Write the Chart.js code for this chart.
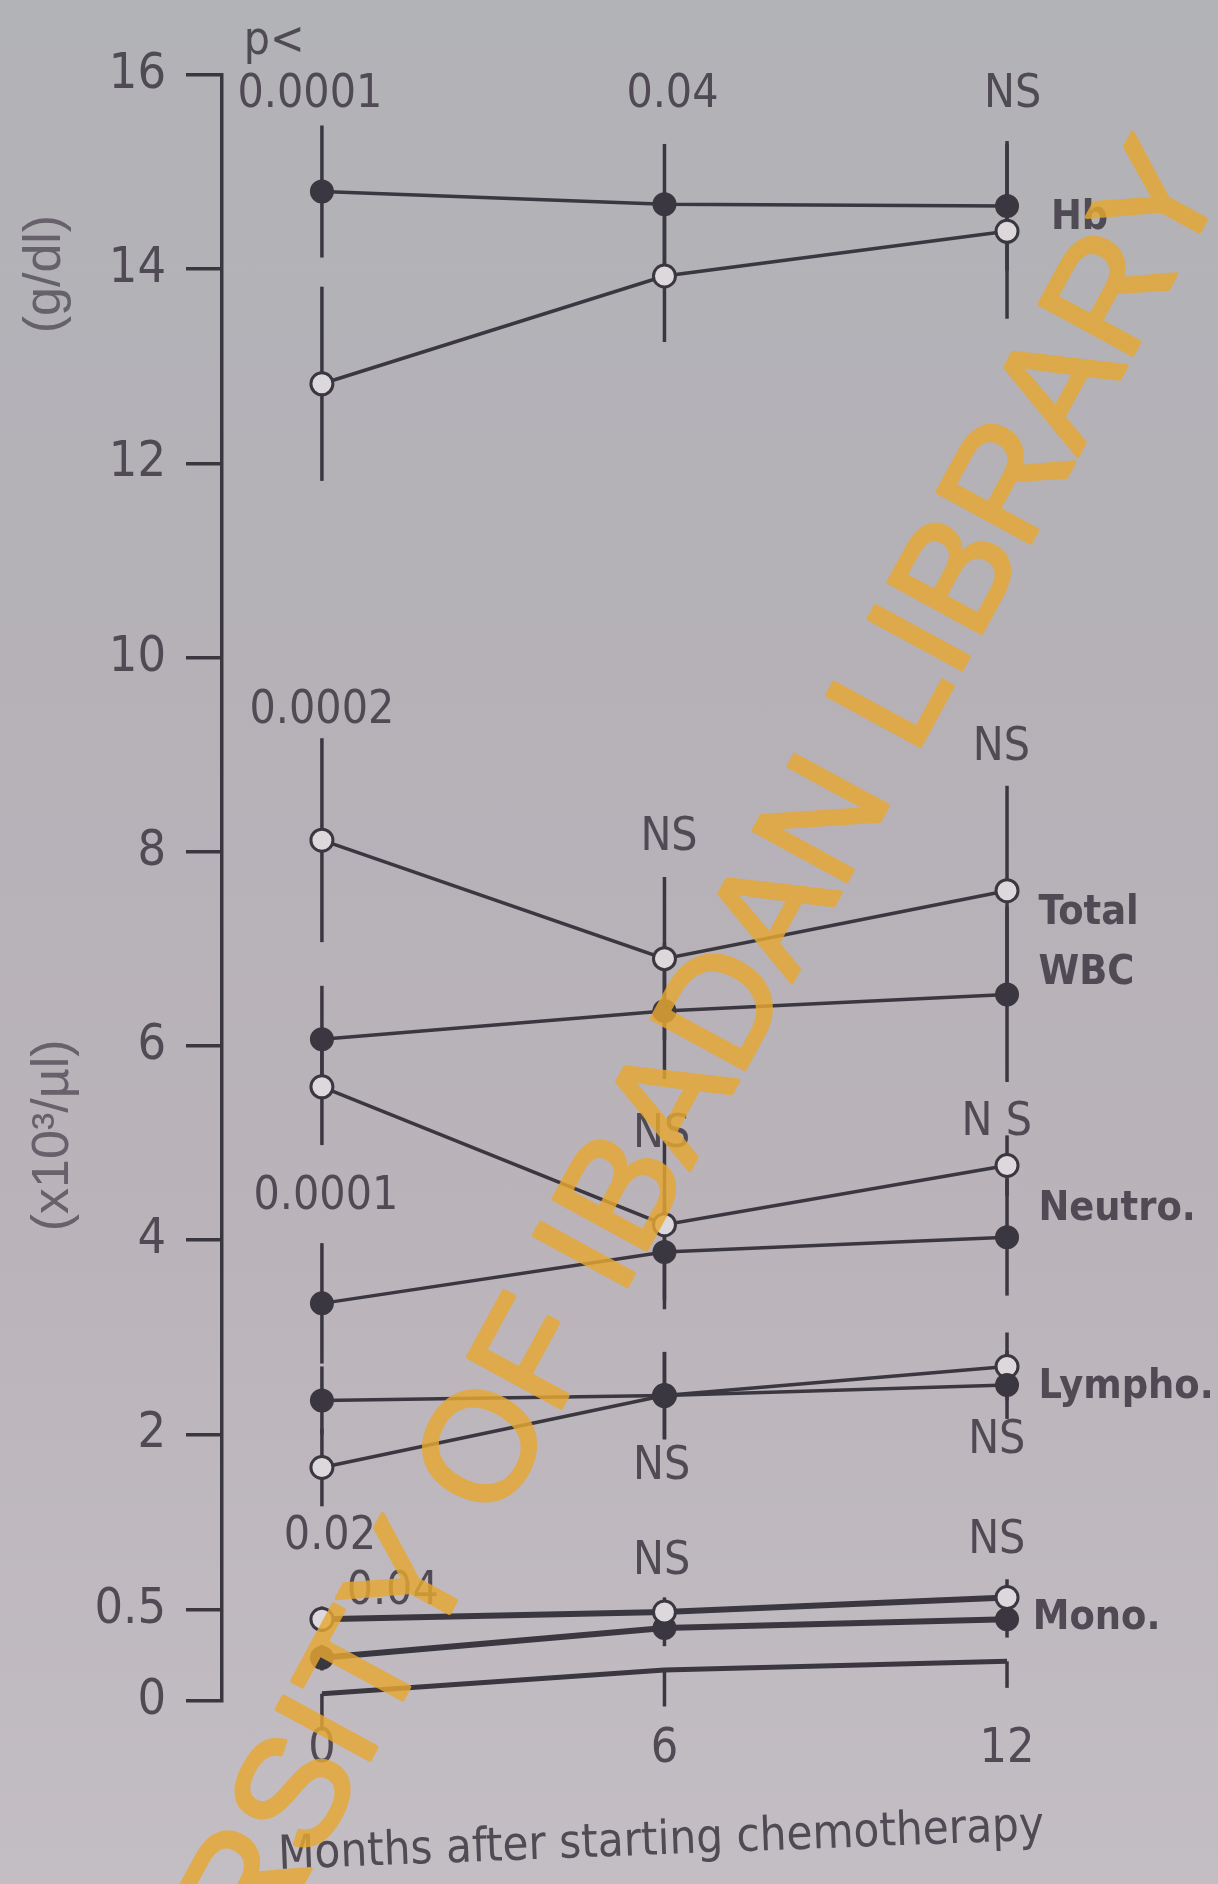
<!DOCTYPE html>
<html>
<head>
<meta charset="utf-8">
<script src="https://cdn.jsdelivr.net/npm/chart.js@4"></script>
<style>
  html, body { margin: 0; padding: 0; }
  body {
    width: 1218px; height: 1884px; overflow: hidden;
    background: linear-gradient(to bottom, #b2b3b7 0%, #b5b1b7 35%, #bab3ba 65%, #c3bec4 100%);
  }
  canvas { display: block; }
</style>
</head>
<body>
<canvas id="chart" width="1218" height="1884"></canvas>
<script>
// months after starting chemotherapy
const months = [0, 6, 12];

// Hb (g/dl)
const hbFilled = [14.8, 14.67, 14.65];
const hbFilledErr = [0.68, 0.62, 0.67];
const hbOpen = [12.82, 13.93, 14.39];
const hbOpenErr = [1.0, 0.68, 0.9];

// counts (x10^3/ul)
const wbcOpen = [8.12, 6.9, 7.6];
const wbcOpenErr = [1.05, 0.84, 1.08];
const wbcFilled = [6.07, 6.36, 6.53];
const wbcFilledErr = [0.55, 0.7, 0.9];
const neutroOpen = [5.58, 4.16, 4.77];
const neutroOpenErr = [0.6, 0.87, 0.31];
const neutroFilled = [3.35, 3.88, 4.03];
const neutroFilledErr = [0.62, 0.5, 0.6];
const lymphoFilled = [2.35, 2.4, 2.51];
const lymphoFilledErr = [0.35, 0.45, 0.35];
const lymphoOpen = [1.66, 2.4, 2.7];
const lymphoOpenErr = [0.4, 0.45, 0.35];

// mono section (own 0 - 0.5 scale)
const monoOpen = [0.447, 0.487, 0.566];
const monoOpenErr = [0.07, 0.08, 0.1];
const monoFilled = [0.237, 0.40, 0.447];
const monoFilledErr = [0.07, 0.1, 0.1];
const lowLine = [0.04, 0.17, 0.217];
const lowLineErr = [0.2, 0.2, 0.145];

// axis ticks
const yTickLabels = ['16', '14', '12', '10', '8', '6', '4', '2', '0.5', '0'];
const yTickUpper = [16, 14, 12, 10, 8, 6, 4, 2];
const yTickMono = [0.5, 0];
const xTickValues = [0, 6, 12];
const xTitle = 'Months after starting chemotherapy';

// p values and series labels
const pLabels = ['p<', '0.0001', '0.04', 'NS', '0.0002', 'NS', 'NS', 'NS', 'N S', '0.0001', 'NS', 'NS', '0.02', '0.04', 'NS', 'NS'];
const seriesLabels = ['Hb', 'Total', 'WBC', 'Neutro.', 'Lympho.', 'Mono.'];

// broken axis: mono values sit on their own stretch below 2
const MONO_ZERO = -0.745;
const MONO_HALF = 0.196;
const monoPos = v => MONO_ZERO + v * (MONO_HALF - MONO_ZERO) / 0.5;
const monoErr = e => e * (MONO_HALF - MONO_ZERO) / 0.5;

const yTickValues = yTickUpper.concat(yTickMono.map(monoPos));

const INK = '#3b3740';
const TEXT = '#4f4a53';
const FONT = "'Liberation Sans Narrow', 'DejaVu Sans Condensed', sans-serif";
const LIGHT = '#dcd8dc';

function pts(vals, f) {
    return vals.map((v, i) => ({ x: months[i], y: f ? f(v) : v }));
}

function series(label, vals, errs, filled, opts = {}) {
    const f = opts.mono ? monoPos : null;
    return {
        label: label,
        data: pts(vals, f),
        errors: errs.map(e => opts.mono ? monoErr(e) : e),
        errDir: opts.errDir || 'both',
        borderColor: INK,
        borderWidth: opts.width || 3.5,
        pointRadius: opts.noPoints ? 0 : (filled ? 10.5 : 11),
        pointBorderWidth: 3,
        pointBorderColor: INK,
        pointBackgroundColor: filled ? INK : LIGHT,
        tension: 0,
        fill: false,
        clip: false
    };
}

// label positions: [month, value]
const pPos = [[-1.37, 16.34], [-0.21, 15.79], [6.14, 15.79], [12.1, 15.79], [0, 9.45], [6.08, 8.14], [11.9, 9.07],
    [5.95, 5.08], [11.82, 5.21], [0.07, 4.44], [5.95, 1.66], [11.82, 1.93], [0.14, 0.94], [1.24, 0.38], [5.95, 0.69], [11.82, 0.90]];
const seriesPos = [[12.77, 14.52], [12.55, 7.37], [12.55, 6.75], [12.55, 4.32], [12.55, 2.49], [12.45, 0.11]];

const errorBars = {
    id: 'errorBars',
    beforeDatasetsDraw(chart) {
        const ctx = chart.ctx;
        const y = chart.scales.y;
        ctx.save();
        ctx.strokeStyle = INK;
        ctx.lineWidth = 3.5;
        chart.data.datasets.forEach((ds, i) => {
            const meta = chart.getDatasetMeta(i);
            ds.data.forEach((p, j) => {
                const e = ds.errors[j];
                const px = meta.data[j].x;
                const top = ds.errDir === 'down' ? p.y : p.y + e;
                ctx.beginPath();
                ctx.moveTo(px, y.getPixelForValue(top));
                ctx.lineTo(px, y.getPixelForValue(p.y - e));
                ctx.stroke();
            });
        });
        ctx.restore();
    }
};

const labels = {
    id: 'labels',
    afterDatasetsDraw(chart) {
        const ctx = chart.ctx;
        const xs = chart.scales.x;
        const ys = chart.scales.y;
        ctx.save();
        ctx.fillStyle = TEXT;
        ctx.textBaseline = 'middle';
        ctx.font = '46px ' + FONT;
        pLabels.forEach((t, i) => {
            ctx.textAlign = i === 0 ? 'left' : 'center';
            ctx.fillText(t, xs.getPixelForValue(pPos[i][0]), ys.getPixelForValue(pPos[i][1]));
        });
        ctx.textAlign = 'left';
        ctx.font = 'bold 41px ' + FONT;
        seriesLabels.forEach((t, i) => {
            ctx.fillText(t, xs.getPixelForValue(seriesPos[i][0]), ys.getPixelForValue(seriesPos[i][1]));
        });

        // x axis title, slightly skewed like the scan
        ctx.save();
        ctx.font = '47px ' + FONT;
        ctx.textAlign = 'center';
        ctx.translate(xs.getPixelForValue(5.94), 1842);
        ctx.rotate(-2.2 * Math.PI / 180);
        ctx.fillText(xTitle, 0, 0);
        ctx.restore();

        // the two unit titles on the broken y axis
        ctx.fillStyle = '#66616a';
        ctx.font = '52px "Liberation Sans", sans-serif';
        ctx.textAlign = 'center';
        [['(g/dl)', 13.95, 46], ['(x10\u00b3/\u00b5l)', 5.08, 54]].forEach(([t, v, px]) => {
            ctx.save();
            ctx.translate(px, ys.getPixelForValue(v));
            ctx.rotate(-Math.PI / 2);
            ctx.fillText(t, 0, 0);
            ctx.restore();
        });
        ctx.restore();
    },
    afterDraw(chart) {
        // library watermark across the scan, drawn opaque off-screen then laid on semi-transparent
        const ctx = chart.ctx;
        const off = document.createElement('canvas');
        off.width = chart.width;
        off.height = chart.height;
        const o = off.getContext('2d');
        o.translate(1190, 160);
        o.rotate(-61.5 * Math.PI / 180);
        o.fillStyle = o.strokeStyle = 'rgb(230,168,50)';
        o.lineWidth = 4;
        o.lineJoin = 'round';
        o.font = '154px "Liberation Sans", sans-serif';
        o.textAlign = 'right';
        o.textBaseline = 'middle';
        const wm = 'UNIVERSITY OF IBADAN LIBRARY';
        o.fillText(wm, 0, 0);
        o.strokeText(wm, 0, 0);
        ctx.save();
        ctx.globalAlpha = 0.82;
        ctx.drawImage(off, 0, 0);
        ctx.restore();
    }
};

const ctx = document.getElementById('chart').getContext('2d');
new Chart(ctx, {
    type: 'line',
    data: {
        datasets: [
            series('Hb filled', hbFilled, hbFilledErr, true),
            series('Hb open', hbOpen, hbOpenErr, false),
            series('WBC open', wbcOpen, wbcOpenErr, false),
            series('WBC filled', wbcFilled, wbcFilledErr, true),
            series('Neutro open', neutroOpen, neutroOpenErr, false),
            series('Neutro filled', neutroFilled, neutroFilledErr, true),
            series('Lympho filled', lymphoFilled, lymphoFilledErr, true),
            series('Lympho open', lymphoOpen, lymphoOpenErr, false),
            series('Mono open', monoOpen, monoOpenErr, false, { mono: true, width: 6 }),
            series('Mono filled', monoFilled, monoFilledErr, true, { mono: true, width: 6 }),
            series('Low', lowLine, lowLineErr, true, { mono: true, width: 5, noPoints: true, errDir: 'down' })
        ]
    },
    options: {
        responsive: false,
        animation: false,
        devicePixelRatio: 1,
        layout: { padding: { top: 75, right: 18, bottom: 0, left: 0 } },
        plugins: { legend: { display: false }, tooltip: { enabled: false } },
        scales: {
            x: {
                type: 'linear',
                min: -1.75,
                max: 15.38,
                afterBuildTicks: s => { s.ticks = xTickValues.map(v => ({ value: v })); },
                afterFit: s => { s.height = 183; },
                border: { display: false },
                grid: { display: false, drawTicks: false },
                ticks: { color: TEXT, font: { family: FONT, size: 48 }, padding: 20 }
            },
            y: {
                type: 'linear',
                min: MONO_ZERO,
                max: 16,
                afterBuildTicks: s => { s.ticks = yTickValues.map(v => ({ value: v })); },
                afterFit: s => { s.width = 222; },
                border: { display: true, color: INK, width: 3.5 },
                grid: { drawOnChartArea: false, drawTicks: true, tickLength: 36, color: INK, lineWidth: 3.5 },
                ticks: {
                    color: TEXT,
                    padding: 20,
                    font: { family: FONT, size: 50 },
                    callback: (v, i) => yTickLabels[i]
                }
            }
        }
    },
    plugins: [errorBars, labels]
});
</script>
</body>
</html>
